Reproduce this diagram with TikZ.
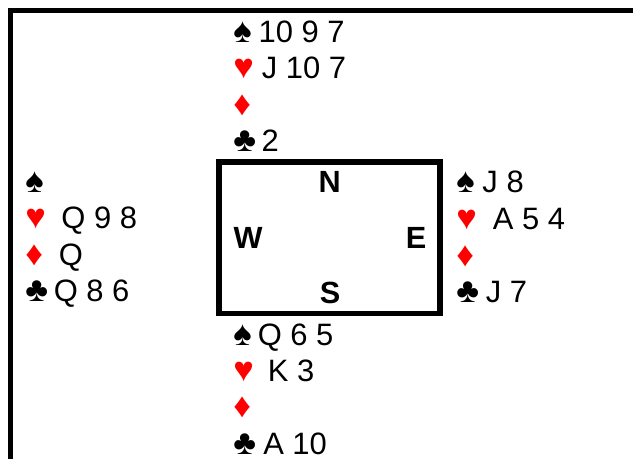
\documentclass[tikz,border=0pt]{standalone}
\usepackage{fontspec}
\setmainfont{Liberation Sans}
\newfontfamily\suitfont{Liberation Sans}
\definecolor{suitred}{RGB}{255,0,0}
\begin{document}
\begin{tikzpicture}[x=0.75pt,y=-0.75pt,
  cards/.style={anchor=base west,inner sep=0pt,font=\fontsize{23.2}{27}\selectfont},
  suit/.style={anchor=base west,inner sep=0pt,font=\suitfont\fontsize{26}{30}\selectfont},
  redsuit/.style={suit,text=suitred},
  seat/.style={inner sep=0pt,font=\fontsize{23}{27}\selectfont\bfseries},
  frame/.style={line width=3.75pt,line join=miter},
  table/.style={draw,line width=4.1pt},
]
\useasboundingbox (0,0) rectangle (633,459);
% outer frame (cropped)
\coordinate (fbl) at (10.5,459);
\coordinate (ftl) at (10.5,10.5);
\coordinate (ftr) at (633,10.5);
\draw[frame] (fbl) -- (ftl) -- (ftr);
% table
\node[table,minimum width=221*0.75pt,minimum height=151.5*0.75pt,inner sep=0pt] (tbl) at (329.5,237.75) {};
\node[seat] (sN) at (329.7,181.7) {N};
\node[seat] (sW) at (248,237.5) {W};
\node[seat] (sE) at (416,237.5) {E};
\node[seat] (sS) at (330,292.5) {S};
% North
\node[suit] (ns) at (233,42.5) {♠};
\node[cards] (nst) at (258.4,42.5) {10 9 7};
\node[redsuit] (nh) at (233,79) {♥};
\node[cards] (nht) at (261.5,79) {J 10 7};
\node[redsuit] (nd) at (233,116) {♦};
\node[suit] (nc) at (233,152) {♣};
\node[cards] (nct) at (261.3,152) {2};
% West
\node[suit] (ws) at (25,193) {♠};
\node[redsuit] (wh) at (25,229) {♥};
\node[cards] (wht) at (61.2,229) {Q 9 8};
\node[redsuit] (wd) at (25,265.5) {♦};
\node[cards] (wdt) at (58.5,265.5) {Q};
\node[suit] (wc) at (25,302) {♣};
\node[cards] (wct) at (53.5,302) {Q 8 6};
% East
\node[suit] (es) at (456,193) {♠};
\node[cards] (est) at (482.2,193) {J 8};
\node[redsuit] (eh) at (456,229.5) {♥};
\node[cards] (eht) at (492.7,229.5) {A 5 4};
\node[redsuit] (ed) at (456,266.5) {♦};
\node[suit] (ec) at (456,303) {♣};
\node[cards] (ect) at (485.5,303) {J 7};
% South
\node[suit] (ss) at (233,346) {♠};
\node[cards] (sst) at (257.5,346) {Q 6 5};
\node[redsuit] (sh) at (233,382) {♥};
\node[cards] (sht) at (267.7,382) {K 3};
\node[redsuit] (sd) at (233,418) {♦};
\node[suit] (sc) at (233,455) {♣};
\node[cards] (sct) at (263,455) {A 10};
\end{tikzpicture}
\end{document}
